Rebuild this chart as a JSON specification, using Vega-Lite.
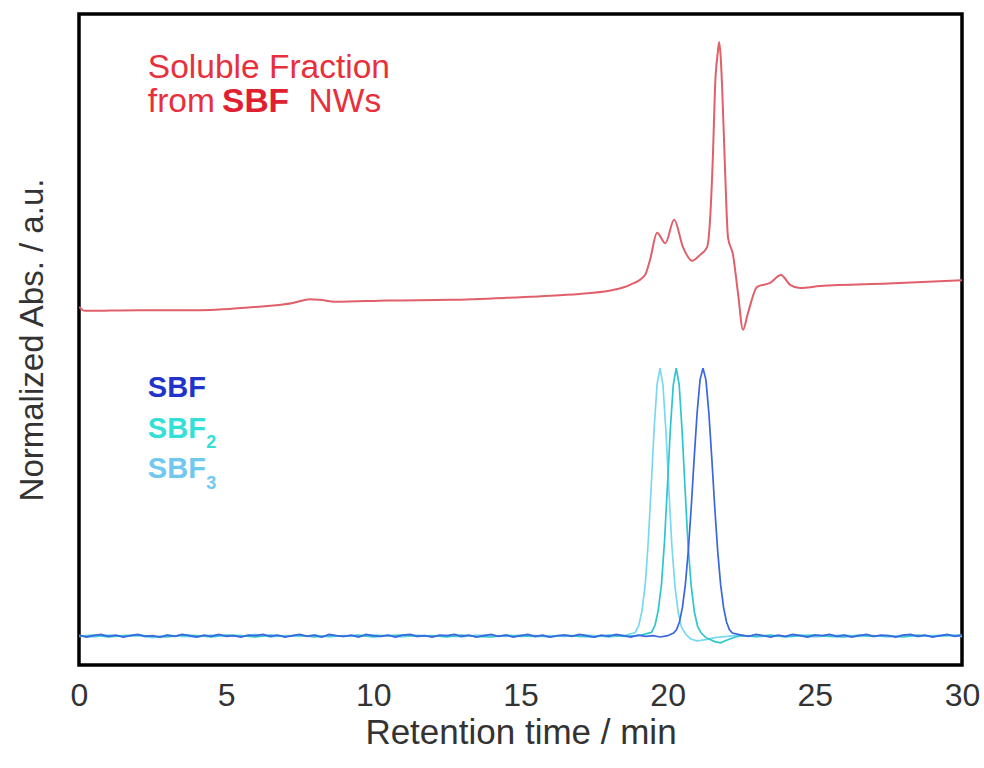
{
  "$schema": "https://vega.github.io/schema/vega-lite/v6.json",
  "width": 883,
  "height": 651,
  "autosize": {"type": "none"},
  "padding": {"left": 79, "top": 14, "right": 22, "bottom": 103},
  "background": "white",
  "config": {
    "font": "Liberation Sans",
    "view": {"stroke": "black", "strokeWidth": 3.5},
    "axis": {"grid": false, "ticks": false, "domain": false}
  },
  "datasets": {
    "red": [
      {"t": 0, "v": 55.0}, {"t": 0.2, "v": 54.4}, {"t": 2, "v": 54.5}, {"t": 4.1, "v": 54.5},
      {"t": 6, "v": 55.0}, {"t": 7.27, "v": 55.6}, {"t": 7.85, "v": 56.2}, {"t": 8.19, "v": 56.1},
      {"t": 8.7, "v": 55.8}, {"t": 10.5, "v": 56.0}, {"t": 12.6, "v": 56.1}, {"t": 14.5, "v": 56.4},
      {"t": 16.34, "v": 56.8}, {"t": 17.3, "v": 57.1}, {"t": 18.14, "v": 57.6}, {"t": 18.72, "v": 58.4},
      {"t": 19.23, "v": 59.9}, {"t": 19.4, "v": 62.2}, {"t": 19.64, "v": 66.4}, {"t": 19.92, "v": 64.8},
      {"t": 20.22, "v": 68.4}, {"t": 20.52, "v": 64.2}, {"t": 20.83, "v": 62.1}, {"t": 21.1, "v": 63.0},
      {"t": 21.34, "v": 64.2}, {"t": 21.44, "v": 68.4}, {"t": 21.54, "v": 78.6}, {"t": 21.61, "v": 88.8},
      {"t": 21.7, "v": 94.0}, {"t": 21.75, "v": 95.7}, {"t": 21.8, "v": 93.5}, {"t": 21.85, "v": 88.8},
      {"t": 21.95, "v": 76.0}, {"t": 22.05, "v": 65.7}, {"t": 22.22, "v": 63.0}, {"t": 22.39, "v": 57.1},
      {"t": 22.56, "v": 51.5}, {"t": 22.73, "v": 54.1}, {"t": 23.04, "v": 58.1}, {"t": 23.48, "v": 58.7},
      {"t": 23.85, "v": 59.9}, {"t": 24.16, "v": 58.4}, {"t": 24.5, "v": 57.9}, {"t": 25.18, "v": 58.2},
      {"t": 27.5, "v": 58.6}, {"t": 30, "v": 59.1}
    ],
    "blue": [
      {"s": "SBF3", "t": 0, "v": 4.5}, {"s": "SBF3", "t": 0.5, "v": 4.3}, {"s": "SBF3", "t": 1, "v": 4.6}, {"s": "SBF3", "t": 1.5, "v": 4.4},
      {"s": "SBF3", "t": 2, "v": 4.5}, {"s": "SBF3", "t": 2.5, "v": 4.2}, {"s": "SBF3", "t": 3, "v": 4.6}, {"s": "SBF3", "t": 3.5, "v": 4.4},
      {"s": "SBF3", "t": 4, "v": 4.3}, {"s": "SBF3", "t": 4.5, "v": 4.6}, {"s": "SBF3", "t": 5, "v": 4.5}, {"s": "SBF3", "t": 5.5, "v": 4.4},
      {"s": "SBF3", "t": 6, "v": 4.7}, {"s": "SBF3", "t": 6.5, "v": 4.3}, {"s": "SBF3", "t": 7, "v": 4.5}, {"s": "SBF3", "t": 7.5, "v": 4.4},
      {"s": "SBF3", "t": 8, "v": 4.6}, {"s": "SBF3", "t": 8.5, "v": 4.3}, {"s": "SBF3", "t": 9, "v": 4.5}, {"s": "SBF3", "t": 9.5, "v": 4.4},
      {"s": "SBF3", "t": 10, "v": 4.6}, {"s": "SBF3", "t": 10.5, "v": 4.5}, {"s": "SBF3", "t": 11, "v": 4.3}, {"s": "SBF3", "t": 11.5, "v": 4.6},
      {"s": "SBF3", "t": 12, "v": 4.4}, {"s": "SBF3", "t": 12.5, "v": 4.5}, {"s": "SBF3", "t": 13, "v": 4.3}, {"s": "SBF3", "t": 13.5, "v": 4.6},
      {"s": "SBF3", "t": 14, "v": 4.5}, {"s": "SBF3", "t": 14.5, "v": 4.4}, {"s": "SBF3", "t": 15, "v": 4.6}, {"s": "SBF3", "t": 15.5, "v": 4.3},
      {"s": "SBF3", "t": 16, "v": 4.5}, {"s": "SBF3", "t": 16.5, "v": 4.4}, {"s": "SBF3", "t": 17, "v": 4.6}, {"s": "SBF3", "t": 17.5, "v": 4.5},
      {"s": "SBF3", "t": 18, "v": 4.3}, {"s": "SBF3", "t": 18.5, "v": 4.5},
      {"s": "SBF3", "t": 18.9, "v": 5.0}, {"s": "SBF3", "t": 19.02, "v": 6.1}, {"s": "SBF3", "t": 19.13, "v": 8.4}, {"s": "SBF3", "t": 19.24, "v": 12.5},
      {"s": "SBF3", "t": 19.34, "v": 18.9}, {"s": "SBF3", "t": 19.44, "v": 27.4}, {"s": "SBF3", "t": 19.54, "v": 36.3}, {"s": "SBF3", "t": 19.64, "v": 43.1},
      {"s": "SBF3", "t": 19.74, "v": 45.6}, {"s": "SBF3", "t": 19.84, "v": 43.0}, {"s": "SBF3", "t": 19.94, "v": 36.0}, {"s": "SBF3", "t": 20.04, "v": 27.0},
      {"s": "SBF3", "t": 20.14, "v": 18.5}, {"s": "SBF3", "t": 20.25, "v": 12.0}, {"s": "SBF3", "t": 20.36, "v": 8.0}, {"s": "SBF3", "t": 20.47, "v": 5.8},
      {"s": "SBF3", "t": 20.6, "v": 4.8}, {"s": "SBF3", "t": 20.78, "v": 4.0}, {"s": "SBF3", "t": 21.0, "v": 3.7}, {"s": "SBF3", "t": 21.3, "v": 3.9},
      {"s": "SBF3", "t": 21.6, "v": 4.2}, {"s": "SBF3", "t": 22.0, "v": 4.4}, {"s": "SBF3", "t": 22.5, "v": 4.6}, {"s": "SBF3", "t": 23, "v": 4.3},
      {"s": "SBF3", "t": 23.5, "v": 4.5}, {"s": "SBF3", "t": 24, "v": 4.4}, {"s": "SBF3", "t": 24.5, "v": 4.6}, {"s": "SBF3", "t": 25, "v": 4.3},
      {"s": "SBF3", "t": 25.5, "v": 4.5}, {"s": "SBF3", "t": 26, "v": 4.6}, {"s": "SBF3", "t": 26.5, "v": 4.4}, {"s": "SBF3", "t": 27, "v": 4.5},
      {"s": "SBF3", "t": 27.5, "v": 4.3}, {"s": "SBF3", "t": 28, "v": 4.6}, {"s": "SBF3", "t": 28.5, "v": 4.4}, {"s": "SBF3", "t": 29, "v": 4.5},
      {"s": "SBF3", "t": 29.5, "v": 4.6}, {"s": "SBF3", "t": 30, "v": 4.4},

      {"s": "SBF2", "t": 0, "v": 4.4}, {"s": "SBF2", "t": 0.5, "v": 4.6}, {"s": "SBF2", "t": 1, "v": 4.3}, {"s": "SBF2", "t": 1.5, "v": 4.5},
      {"s": "SBF2", "t": 2, "v": 4.6}, {"s": "SBF2", "t": 2.5, "v": 4.4}, {"s": "SBF2", "t": 3, "v": 4.3}, {"s": "SBF2", "t": 3.5, "v": 4.6},
      {"s": "SBF2", "t": 4, "v": 4.5}, {"s": "SBF2", "t": 4.5, "v": 4.3}, {"s": "SBF2", "t": 5, "v": 4.6}, {"s": "SBF2", "t": 5.5, "v": 4.5},
      {"s": "SBF2", "t": 6, "v": 4.3}, {"s": "SBF2", "t": 6.5, "v": 4.6}, {"s": "SBF2", "t": 7, "v": 4.4}, {"s": "SBF2", "t": 7.5, "v": 4.6},
      {"s": "SBF2", "t": 8, "v": 4.3}, {"s": "SBF2", "t": 8.5, "v": 4.5}, {"s": "SBF2", "t": 9, "v": 4.4}, {"s": "SBF2", "t": 9.5, "v": 4.6},
      {"s": "SBF2", "t": 10, "v": 4.3}, {"s": "SBF2", "t": 10.5, "v": 4.5}, {"s": "SBF2", "t": 11, "v": 4.6}, {"s": "SBF2", "t": 11.5, "v": 4.4},
      {"s": "SBF2", "t": 12, "v": 4.5}, {"s": "SBF2", "t": 12.5, "v": 4.3}, {"s": "SBF2", "t": 13, "v": 4.6}, {"s": "SBF2", "t": 13.5, "v": 4.4},
      {"s": "SBF2", "t": 14, "v": 4.3}, {"s": "SBF2", "t": 14.5, "v": 4.6}, {"s": "SBF2", "t": 15, "v": 4.4}, {"s": "SBF2", "t": 15.5, "v": 4.5},
      {"s": "SBF2", "t": 16, "v": 4.3}, {"s": "SBF2", "t": 16.5, "v": 4.6}, {"s": "SBF2", "t": 17, "v": 4.4}, {"s": "SBF2", "t": 17.5, "v": 4.3},
      {"s": "SBF2", "t": 18, "v": 4.6}, {"s": "SBF2", "t": 18.5, "v": 4.4}, {"s": "SBF2", "t": 19, "v": 4.5},
      {"s": "SBF2", "t": 19.45, "v": 5.0}, {"s": "SBF2", "t": 19.57, "v": 6.1}, {"s": "SBF2", "t": 19.68, "v": 8.4}, {"s": "SBF2", "t": 19.79, "v": 12.4},
      {"s": "SBF2", "t": 19.89, "v": 18.8}, {"s": "SBF2", "t": 19.99, "v": 27.3}, {"s": "SBF2", "t": 20.09, "v": 36.2}, {"s": "SBF2", "t": 20.19, "v": 43.0},
      {"s": "SBF2", "t": 20.29, "v": 45.6}, {"s": "SBF2", "t": 20.39, "v": 43.1}, {"s": "SBF2", "t": 20.49, "v": 36.0}, {"s": "SBF2", "t": 20.59, "v": 27.1},
      {"s": "SBF2", "t": 20.69, "v": 18.6}, {"s": "SBF2", "t": 20.8, "v": 12.1}, {"s": "SBF2", "t": 20.91, "v": 8.1}, {"s": "SBF2", "t": 21.02, "v": 5.9},
      {"s": "SBF2", "t": 21.14, "v": 4.9}, {"s": "SBF2", "t": 21.3, "v": 4.2}, {"s": "SBF2", "t": 21.6, "v": 3.6}, {"s": "SBF2", "t": 21.8, "v": 3.4},
      {"s": "SBF2", "t": 22.0, "v": 3.8}, {"s": "SBF2", "t": 22.3, "v": 4.3}, {"s": "SBF2", "t": 22.5, "v": 4.5}, {"s": "SBF2", "t": 23, "v": 4.4},
      {"s": "SBF2", "t": 23.5, "v": 4.6}, {"s": "SBF2", "t": 24, "v": 4.3}, {"s": "SBF2", "t": 24.5, "v": 4.5}, {"s": "SBF2", "t": 25, "v": 4.6},
      {"s": "SBF2", "t": 25.5, "v": 4.4}, {"s": "SBF2", "t": 26, "v": 4.3}, {"s": "SBF2", "t": 26.5, "v": 4.6}, {"s": "SBF2", "t": 27, "v": 4.4},
      {"s": "SBF2", "t": 27.5, "v": 4.5}, {"s": "SBF2", "t": 28, "v": 4.3}, {"s": "SBF2", "t": 28.5, "v": 4.6}, {"s": "SBF2", "t": 29, "v": 4.4},
      {"s": "SBF2", "t": 29.5, "v": 4.5}, {"s": "SBF2", "t": 30, "v": 4.6},

      {"s": "SBF", "t": 0, "v": 4.6}, {"s": "SBF", "t": 0.25, "v": 4.3}, {"s": "SBF", "t": 0.5, "v": 4.5}, {"s": "SBF", "t": 0.75, "v": 4.7},
      {"s": "SBF", "t": 1, "v": 4.4}, {"s": "SBF", "t": 1.25, "v": 4.6}, {"s": "SBF", "t": 1.5, "v": 4.3}, {"s": "SBF", "t": 1.75, "v": 4.5},
      {"s": "SBF", "t": 2, "v": 4.7}, {"s": "SBF", "t": 2.25, "v": 4.4}, {"s": "SBF", "t": 2.5, "v": 4.5}, {"s": "SBF", "t": 2.75, "v": 4.3},
      {"s": "SBF", "t": 3, "v": 4.6}, {"s": "SBF", "t": 3.25, "v": 4.4}, {"s": "SBF", "t": 3.5, "v": 4.7}, {"s": "SBF", "t": 3.75, "v": 4.5},
      {"s": "SBF", "t": 4, "v": 4.3}, {"s": "SBF", "t": 4.25, "v": 4.6}, {"s": "SBF", "t": 4.5, "v": 4.4}, {"s": "SBF", "t": 4.75, "v": 4.7},
      {"s": "SBF", "t": 5, "v": 4.4}, {"s": "SBF", "t": 5.25, "v": 4.5}, {"s": "SBF", "t": 5.5, "v": 4.3}, {"s": "SBF", "t": 5.75, "v": 4.6},
      {"s": "SBF", "t": 6, "v": 4.5}, {"s": "SBF", "t": 6.25, "v": 4.7}, {"s": "SBF", "t": 6.5, "v": 4.4}, {"s": "SBF", "t": 6.75, "v": 4.6},
      {"s": "SBF", "t": 7, "v": 4.3}, {"s": "SBF", "t": 7.25, "v": 4.5}, {"s": "SBF", "t": 7.5, "v": 4.7}, {"s": "SBF", "t": 7.75, "v": 4.4},
      {"s": "SBF", "t": 8, "v": 4.6}, {"s": "SBF", "t": 8.25, "v": 4.3}, {"s": "SBF", "t": 8.5, "v": 4.7}, {"s": "SBF", "t": 8.75, "v": 4.5},
      {"s": "SBF", "t": 9, "v": 4.4}, {"s": "SBF", "t": 9.25, "v": 4.6}, {"s": "SBF", "t": 9.5, "v": 4.3}, {"s": "SBF", "t": 9.75, "v": 4.7},
      {"s": "SBF", "t": 10, "v": 4.5}, {"s": "SBF", "t": 10.25, "v": 4.4}, {"s": "SBF", "t": 10.5, "v": 4.6}, {"s": "SBF", "t": 10.75, "v": 4.3},
      {"s": "SBF", "t": 11, "v": 4.6}, {"s": "SBF", "t": 11.25, "v": 4.7}, {"s": "SBF", "t": 11.5, "v": 4.4}, {"s": "SBF", "t": 11.75, "v": 4.5},
      {"s": "SBF", "t": 12, "v": 4.3}, {"s": "SBF", "t": 12.25, "v": 4.6}, {"s": "SBF", "t": 12.5, "v": 4.5}, {"s": "SBF", "t": 12.75, "v": 4.7},
      {"s": "SBF", "t": 13, "v": 4.4}, {"s": "SBF", "t": 13.25, "v": 4.6}, {"s": "SBF", "t": 13.5, "v": 4.3}, {"s": "SBF", "t": 13.75, "v": 4.5},
      {"s": "SBF", "t": 14, "v": 4.7}, {"s": "SBF", "t": 14.25, "v": 4.4}, {"s": "SBF", "t": 14.5, "v": 4.6}, {"s": "SBF", "t": 14.75, "v": 4.3},
      {"s": "SBF", "t": 15, "v": 4.5}, {"s": "SBF", "t": 15.25, "v": 4.7}, {"s": "SBF", "t": 15.5, "v": 4.4}, {"s": "SBF", "t": 15.75, "v": 4.6},
      {"s": "SBF", "t": 16, "v": 4.3}, {"s": "SBF", "t": 16.25, "v": 4.5}, {"s": "SBF", "t": 16.5, "v": 4.6}, {"s": "SBF", "t": 16.75, "v": 4.4},
      {"s": "SBF", "t": 17, "v": 4.7}, {"s": "SBF", "t": 17.25, "v": 4.5}, {"s": "SBF", "t": 17.5, "v": 4.3}, {"s": "SBF", "t": 17.75, "v": 4.6},
      {"s": "SBF", "t": 18, "v": 4.4}, {"s": "SBF", "t": 18.25, "v": 4.7}, {"s": "SBF", "t": 18.5, "v": 4.5}, {"s": "SBF", "t": 18.75, "v": 4.3},
      {"s": "SBF", "t": 19, "v": 4.6}, {"s": "SBF", "t": 19.25, "v": 4.4}, {"s": "SBF", "t": 19.5, "v": 4.5}, {"s": "SBF", "t": 19.75, "v": 4.3},
      {"s": "SBF", "t": 20, "v": 4.5},
      {"s": "SBF", "t": 20.2, "v": 4.9}, {"s": "SBF", "t": 20.3, "v": 5.4}, {"s": "SBF", "t": 20.4, "v": 6.6}, {"s": "SBF", "t": 20.5, "v": 8.8},
      {"s": "SBF", "t": 20.6, "v": 12.3}, {"s": "SBF", "t": 20.7, "v": 17.5}, {"s": "SBF", "t": 20.8, "v": 24.2}, {"s": "SBF", "t": 20.9, "v": 31.7},
      {"s": "SBF", "t": 21.0, "v": 38.7}, {"s": "SBF", "t": 21.1, "v": 43.8}, {"s": "SBF", "t": 21.2, "v": 45.6}, {"s": "SBF", "t": 21.3, "v": 43.8},
      {"s": "SBF", "t": 21.4, "v": 38.7}, {"s": "SBF", "t": 21.5, "v": 31.7}, {"s": "SBF", "t": 21.6, "v": 24.2}, {"s": "SBF", "t": 21.7, "v": 17.5},
      {"s": "SBF", "t": 21.8, "v": 12.3}, {"s": "SBF", "t": 21.9, "v": 8.8}, {"s": "SBF", "t": 22.0, "v": 6.6}, {"s": "SBF", "t": 22.1, "v": 5.4},
      {"s": "SBF", "t": 22.2, "v": 4.9}, {"s": "SBF", "t": 22.5, "v": 4.6}, {"s": "SBF", "t": 22.75, "v": 4.4}, {"s": "SBF", "t": 23, "v": 4.7},
      {"s": "SBF", "t": 23.25, "v": 4.5}, {"s": "SBF", "t": 23.5, "v": 4.3}, {"s": "SBF", "t": 23.75, "v": 4.6}, {"s": "SBF", "t": 24, "v": 4.4},
      {"s": "SBF", "t": 24.25, "v": 4.7}, {"s": "SBF", "t": 24.5, "v": 4.5}, {"s": "SBF", "t": 24.75, "v": 4.3}, {"s": "SBF", "t": 25, "v": 4.6},
      {"s": "SBF", "t": 25.25, "v": 4.5}, {"s": "SBF", "t": 25.5, "v": 4.7}, {"s": "SBF", "t": 25.75, "v": 4.4}, {"s": "SBF", "t": 26, "v": 4.6},
      {"s": "SBF", "t": 26.25, "v": 4.3}, {"s": "SBF", "t": 26.5, "v": 4.5}, {"s": "SBF", "t": 26.75, "v": 4.7}, {"s": "SBF", "t": 27, "v": 4.4},
      {"s": "SBF", "t": 27.25, "v": 4.6}, {"s": "SBF", "t": 27.5, "v": 4.5}, {"s": "SBF", "t": 27.75, "v": 4.3}, {"s": "SBF", "t": 28, "v": 4.6},
      {"s": "SBF", "t": 28.25, "v": 4.7}, {"s": "SBF", "t": 28.5, "v": 4.4}, {"s": "SBF", "t": 28.75, "v": 4.6}, {"s": "SBF", "t": 29, "v": 4.3},
      {"s": "SBF", "t": 29.25, "v": 4.5}, {"s": "SBF", "t": 29.5, "v": 4.7}, {"s": "SBF", "t": 29.75, "v": 4.4}, {"s": "SBF", "t": 30, "v": 4.6}
    ]
  },
  "layer": [
    {
      "data": {"name": "red"},
      "mark": {"type": "line", "color": "#e0606a", "strokeWidth": 2, "interpolate": "monotone", "clip": true},
      "encoding": {
        "x": {"field": "t", "type": "quantitative", "scale": {"domain": [0, 30], "nice": false, "zero": false},
          "axis": {"values": [0, 5, 10, 15, 20, 25, 30], "labelFontSize": 32, "labelColor": "#333333", "labelPadding": 15, "labelFlush": false, "tickSize": 0,
            "title": "Retention time / min", "titleFontSize": 35, "titleFontWeight": "normal", "titleColor": "#333333", "titlePadding": 4}},
        "y": {"field": "v", "type": "quantitative", "scale": {"domain": [0, 100], "nice": false, "zero": false},
          "axis": {"labels": false, "tickSize": 0, "title": "Normalized Abs. / a.u.", "titleFontSize": 33, "titleFontWeight": "normal", "titleColor": "#333333", "titlePadding": 30}}
      }
    },
    {
      "data": {"name": "blue"},
      "mark": {"type": "line", "strokeWidth": 1.7, "clip": true},
      "encoding": {
        "x": {"field": "t", "type": "quantitative"},
        "y": {"field": "v", "type": "quantitative"},
        "color": {"field": "s", "type": "nominal", "legend": null,
          "scale": {"domain": ["SBF3", "SBF2", "SBF"], "range": ["#7ad8f2", "#2ec6cc", "#3a66e0"]}},
        "order": {"field": "t", "type": "quantitative"}
      }
    },
    {
      "data": {"values": [
        {"text": "Soluble Fraction", "t": 2.34, "v": 90.1},
        {"text": "from", "t": 2.34, "v": 84.9},
        {"text": "NWs", "t": 7.8, "v": 84.9}
      ]},
      "mark": {"type": "text", "align": "left", "baseline": "alphabetic", "fontSize": 33.5, "color": "#e8303c"},
      "encoding": {
        "x": {"field": "t", "type": "quantitative"},
        "y": {"field": "v", "type": "quantitative"},
        "text": {"field": "text"}
      }
    },
    {
      "data": {"values": [{"text": "SBF", "t": 4.86, "v": 84.9}]},
      "mark": {"type": "text", "align": "left", "baseline": "alphabetic", "fontSize": 33.5, "fontWeight": "bold", "color": "#e02030"},
      "encoding": {
        "x": {"field": "t", "type": "quantitative"},
        "y": {"field": "v", "type": "quantitative"},
        "text": {"field": "text"}
      }
    },
    {
      "data": {"values": [{"text": "SBF", "t": 2.34, "v": 41.2}]},
      "mark": {"type": "text", "align": "left", "baseline": "alphabetic", "fontSize": 29, "fontWeight": "bold", "color": "#2233cc"},
      "encoding": {
        "x": {"field": "t", "type": "quantitative"},
        "y": {"field": "v", "type": "quantitative"},
        "text": {"field": "text"}
      }
    },
    {
      "data": {"values": [{"text": "SBF", "t": 2.34, "v": 34.9}]},
      "mark": {"type": "text", "align": "left", "baseline": "alphabetic", "fontSize": 29, "fontWeight": "bold", "color": "#33e0d8"},
      "encoding": {
        "x": {"field": "t", "type": "quantitative"},
        "y": {"field": "v", "type": "quantitative"},
        "text": {"field": "text"}
      }
    },
    {
      "data": {"values": [{"text": "2", "t": 4.32, "v": 33.3}]},
      "mark": {"type": "text", "align": "left", "baseline": "alphabetic", "fontSize": 18, "fontWeight": "bold", "color": "#33e0d8"},
      "encoding": {
        "x": {"field": "t", "type": "quantitative"},
        "y": {"field": "v", "type": "quantitative"},
        "text": {"field": "text"}
      }
    },
    {
      "data": {"values": [{"text": "SBF", "t": 2.34, "v": 28.7}]},
      "mark": {"type": "text", "align": "left", "baseline": "alphabetic", "fontSize": 29, "fontWeight": "bold", "color": "#70c8f0"},
      "encoding": {
        "x": {"field": "t", "type": "quantitative"},
        "y": {"field": "v", "type": "quantitative"},
        "text": {"field": "text"}
      }
    },
    {
      "data": {"values": [{"text": "3", "t": 4.32, "v": 27.0}]},
      "mark": {"type": "text", "align": "left", "baseline": "alphabetic", "fontSize": 18, "fontWeight": "bold", "color": "#70c8f0"},
      "encoding": {
        "x": {"field": "t", "type": "quantitative"},
        "y": {"field": "v", "type": "quantitative"},
        "text": {"field": "text"}
      }
    }
  ]
}
